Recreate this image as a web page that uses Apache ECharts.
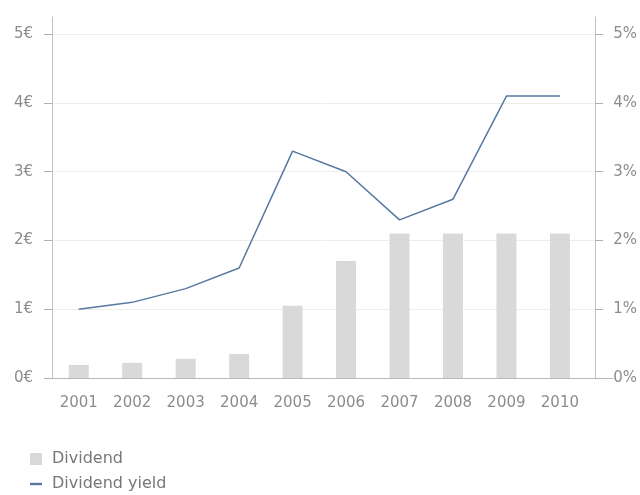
<!DOCTYPE html>
<html>
<head>
<meta charset="utf-8">
<script src="https://cdn.jsdelivr.net/npm/echarts@6/dist/echarts.min.js"></script>
<style>html,body{margin:0;padding:0;background:#fff;}#c{width:640px;height:495px;}</style>
</head>
<body>
<div id="c"></div>
<script>
var years = ['2001','2002','2003','2004','2005','2006','2007','2008','2009','2010'];
var dividend = [0.19, 0.22, 0.28, 0.35, 1.05, 1.7, 2.1, 2.1, 2.1, 2.1];
var dividendYield = [1.0, 1.1, 1.3, 1.6, 3.3, 3.0, 2.3, 2.6, 4.1, 4.1];
var leftTicks = [0, 1, 2, 3, 4, 5];
var rightTicks = [0, 1, 2, 3, 4, 5];

var font = 'DejaVu Sans';
var labelColor = '#8c8c8c';
var axisColor = '#c4c4c4';
var gridColor = '#ededed';

var chart = echarts.init(document.getElementById('c'), null, {renderer: 'canvas'});
chart.setOption({
  animation: false,
  backgroundColor: '#fff',
  legend: {
    orient: 'vertical',
    left: 30,
    top: 451,
    padding: 0,
    itemWidth: 12,
    itemHeight: 12,
    itemGap: 9,
    textStyle: {fontFamily: font, fontSize: 16, color: '#777', padding: [0, 0, 0, 5]},
    data: [
      {name: 'Dividend', icon: 'rect'},
      {name: 'Dividend yield', icon: 'path://M0,0h12v2.4h-12z'}
    ]
  },
  grid: [
    {left: 52, right: 43, top: 17, bottom: 117, containLabel: false},
    {left: 44, right: 27, top: 17, bottom: 117, containLabel: false}
  ],
  xAxis: [
    {
      type: 'value', gridIndex: 0, min: -0.5, max: 9.66,
      axisLine: {show: false},
      axisTick: {show: false},
      splitLine: {show: false},
      axisLabel: {
        customValues: years.map(function (y, i) { return i; }),
        formatter: function (v) { return years[Math.round(v)] || ''; },
        fontFamily: font, fontSize: 15, color: labelColor, margin: 18
      }
    },
    {
      type: 'value', gridIndex: 1, min: 0, max: 1,
      axisLine: {show: true, onZero: false, lineStyle: {color: '#b8b8b8', width: 1}},
      axisTick: {show: false}, axisLabel: {show: false}, splitLine: {show: false}
    }
  ],
  yAxis: [
    {
      type: 'value', gridIndex: 0, min: 0, max: 5.25, position: 'left',
      axisLine: {show: true, onZero: false, lineStyle: {color: axisColor, width: 1}},
      axisTick: {show: true, inside: false, length: 8, customValues: leftTicks, lineStyle: {color: '#b0b0b0', width: 1}},
      splitLine: {show: true, lineStyle: {color: gridColor, width: 1}},
      axisLabel: {
        customValues: leftTicks,
        formatter: function (v) { return v + '€'; },
        fontFamily: font, fontSize: 15, color: labelColor, margin: 19
      }
    },
    {
      type: 'value', gridIndex: 0, min: 0, max: 5.25, position: 'right',
      axisLine: {show: true, onZero: false, lineStyle: {color: axisColor, width: 1}},
      axisTick: {show: true, inside: false, length: 8, customValues: rightTicks, lineStyle: {color: '#b0b0b0', width: 1}},
      splitLine: {show: false},
      axisLabel: {
        customValues: rightTicks,
        formatter: function (v) { return v + '%'; },
        fontFamily: font, fontSize: 15, color: labelColor, margin: 18
      }
    },
    {
      type: 'value', gridIndex: 1, min: 0, max: 1, show: false
    }
  ],
  series: [
    {
      name: 'Dividend', type: 'bar', xAxisIndex: 0, yAxisIndex: 0,
      barWidth: 20,
      itemStyle: {color: '#d9d9d9'},
      data: dividend.map(function (v, i) { return [i, v]; })
    },
    {
      name: 'Dividend yield', type: 'line', xAxisIndex: 0, yAxisIndex: 1,
      symbol: 'none',
      lineStyle: {color: '#55799f', width: 1.5},
      itemStyle: {color: '#55799f'},
      data: dividendYield.map(function (v, i) { return [i, v]; })
    }
  ]
});
</script>
</body>
</html>
